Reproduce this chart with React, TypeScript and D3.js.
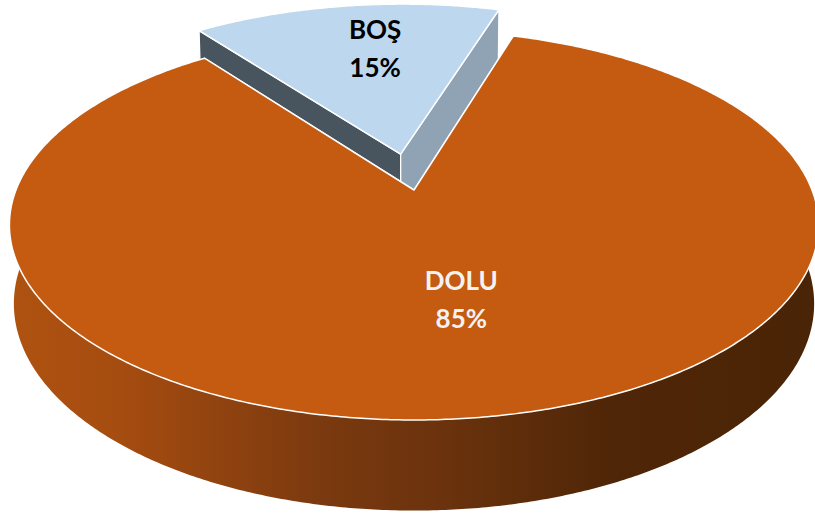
import React from "react";
import * as d3 from "d3";

// ---- data ----
const categories = ["DOLU", "BOŞ"];
const values = [85, 15];
const percentLabels = ["85%", "15%"];
const explode = [0, 0.2];
const topColors = ["#C55A11", "#BDD7EE"];
const startFaceColors = ["#5A2A09", "#48555F"];
const endFaceColors = ["#5A2A09", "#8FA3B5"];
const labelColors = ["#F2F2F2", "#000000"];
const labelRadius = [0.54, 0.67];
const labelAngleShift = [-1.5, 3.3];

// ---- view ----
const W = 815;
const H = 518;
const CX = 414;
const CY = 190;
const K = 398;
const SIN_E = 0.4741;
const COS_E = Math.sqrt(1 - SIN_E * SIN_E);
const DIST = 4.905;
const H_PERSP = 0.5;
const THICK = 0.222;
const START_DEG = 17;
const deg = Math.PI / 180;

function project(u: number, v: number, h: number): [number, number] {
  const s = DIST / (DIST - v * COS_E - H_PERSP * h * SIN_E);
  return [CX + K * u * s, CY + K * (v * SIN_E - h * COS_E) * s];
}

function sample(a0: number, a1: number, r: number, ou: number, ov: number, h: number) {
  const n = Math.max(2, Math.ceil(((a1 - a0) / deg) * 2));
  return d3.range(n + 1).map((i) => {
    const a = a0 + ((a1 - a0) * i) / n;
    return project(ou + r * Math.sin(a), ov - r * Math.cos(a), h);
  });
}

export default function App() {
  const pie = d3
    .pie<number>()
    .sort(null)
    .value((d) => d)
    .startAngle(START_DEG * deg)
    .endAngle(START_DEG * deg + 2 * Math.PI);
  const arcs = pie(values);
  const line = d3.line<[number, number]>();
  const closed = (pts: [number, number][]) => (line(pts) || "") + "Z";

  const slices = arcs.map((a, i) => {
    const mid = (a.startAngle + a.endAngle) / 2;
    const ou = explode[i] * Math.sin(mid);
    const ov = -explode[i] * Math.cos(mid);
    const cTop = project(ou, ov, 0);
    const cBot = project(ou, ov, -THICK);
    const topArc = sample(a.startAngle, a.endAngle, 1, ou, ov, 0);
    const top = closed([cTop, ...topArc]);
    const edge = (ang: number) => {
      const pt = project(ou + Math.sin(ang), ov - Math.cos(ang), 0);
      const pb = project(ou + Math.sin(ang), ov - Math.cos(ang), -THICK);
      return closed([cTop, pt, pb, cBot]);
    };
    const startFace = edge(a.startAngle);
    const endFace = edge(a.endAngle);
    const v0 = Math.max(a.startAngle, 60 * deg);
    const v1 = Math.min(a.endAngle, 300 * deg);
    let side: string | null = null;
    if (v1 > v0) {
      const tp = sample(v0, v1, 1, ou, ov, 0);
      const bp = sample(v0, v1, 1, ou, ov, -THICK).reverse();
      side = closed([...tp, ...bp]);
    }
    const la = mid + labelAngleShift[i] * deg;
    const lr = labelRadius[i];
    const lp = project(ou + lr * Math.sin(la), ov - lr * Math.cos(la), 0);
    return { i, mid, top, startFace, endFace, side, lp };
  });

  const order = [...slices].sort((a, b) => -Math.cos(a.mid) - -Math.cos(b.mid));

  return (
    <svg
      width={W}
      height={H}
      style={{ position: "absolute", left: 0, top: 0, background: "#fff" }}
    >
      <defs>
        <linearGradient id="sideGrad" gradientUnits="userSpaceOnUse" x1={0} y1={0} x2={W} y2={0}>
          <stop offset="0%" stopColor="#B05311" />
          <stop offset="15%" stopColor="#A54C10" />
          <stop offset="40%" stopColor="#7A390F" />
          <stop offset="55%" stopColor="#6A320D" />
          <stop offset="75%" stopColor="#4F2607" />
          <stop offset="100%" stopColor="#4A2406" />
        </linearGradient>
      </defs>
      {order.map((s) => (
        <g key={categories[s.i]}>
          <path d={s.startFace} fill={startFaceColors[s.i]} stroke="#fff" strokeWidth={1.3} strokeLinejoin="round" />
          <path d={s.endFace} fill={endFaceColors[s.i]} stroke="#fff" strokeWidth={1.3} strokeLinejoin="round" />
          {s.side && <path d={s.side} fill="url(#sideGrad)" />}
          <path d={s.top} fill={topColors[s.i]} stroke="#fff" strokeWidth={1.5} strokeLinejoin="round" />
        </g>
      ))}
      {slices.map((s) => (
        <text
          key={"l" + s.i}
          x={s.lp[0]}
          y={s.lp[1]}
          textAnchor="middle"
          fontFamily="Lato, 'Open Sans', sans-serif"
          fontWeight="bold"
          fontSize={26}
          fill={labelColors[s.i]}
        >
          <tspan x={s.lp[0]} y={s.lp[1] - 10}>{categories[s.i]}</tspan>
          <tspan x={s.lp[0]} y={s.lp[1] + 28}>{percentLabels[s.i]}</tspan>
        </text>
      ))}
    </svg>
  );
}
